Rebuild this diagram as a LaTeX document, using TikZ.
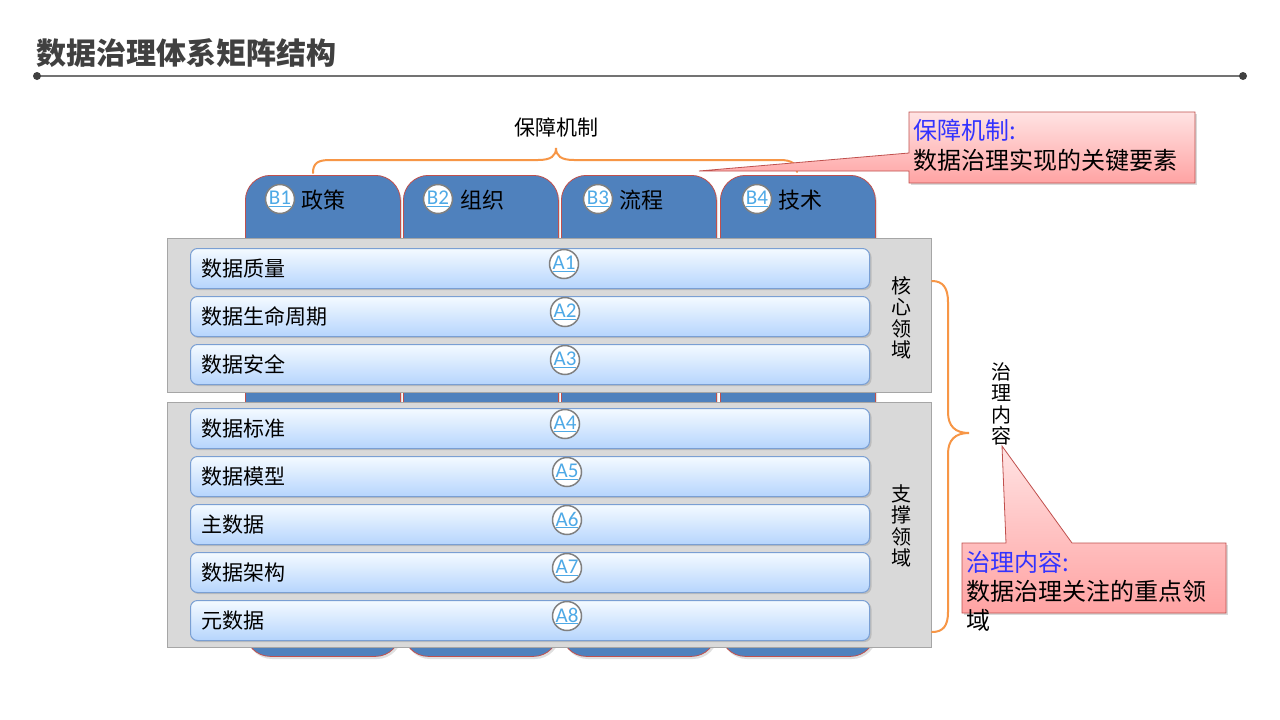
\documentclass[tikz,border=0pt]{standalone}
\usepackage{fontspec}
\setmainfont{Noto Sans CJK SC}
\newfontfamily\latinf{Carlito}
\definecolor{colblue}{HTML}{4F81BD}
\definecolor{colred}{HTML}{C0504D}
\definecolor{panelgray}{HTML}{D9D9D9}
\definecolor{panelborder}{HTML}{A6A6A6}
\definecolor{bartop}{HTML}{F4FAFF}
\definecolor{barbot}{HTML}{B6D5FD}
\definecolor{barborder}{HTML}{7A9FD3}
\definecolor{bracecol}{HTML}{F79646}
\definecolor{idblue}{HTML}{4EA9E6}
\definecolor{calltop}{HTML}{FFE3E3}
\definecolor{callbot}{HTML}{FFA3A3}
\definecolor{callborder}{HTML}{C0504D}
\definecolor{callblue}{HTML}{3333FF}
\definecolor{titlegray}{HTML}{404040}
\tikzset{
  colbox/.style={draw=colred, line width=0.8pt, fill=colblue, rounded corners=25pt,
    minimum width=155pt, minimum height=481pt, anchor=north west, inner sep=0pt},
  panel/.style={draw=panelborder, line width=0.8pt, fill=panelgray, anchor=north west,
    minimum width=764pt, inner sep=0pt},
  bar/.style={draw=barborder, line width=1pt, top color=bartop, bottom color=barbot,
    rounded corners=7pt, minimum width=679pt, minimum height=40pt, anchor=north west, inner sep=0pt},
  idcirc/.style={circle, minimum size=29pt, inner sep=0pt, draw=black!50, line width=1.5pt,
    fill=white, text=idblue, font=\latinf\fontsize{21}{21}\selectfont},
  barlabel/.style={anchor=west, inner sep=0pt, font=\fontsize{21}{21}\selectfont},
  collabel/.style={anchor=west, inner sep=0pt, font=\fontsize{22}{22}\selectfont},
  vlabel/.style={align=center, inner sep=0pt, font=\fontsize{20}{21.5}\selectfont},
  brace/.style={draw=bracecol, line width=2pt, line cap=round},
  callout/.style={draw=callborder, line width=0.8pt, top color=calltop, bottom color=callbot},
  callshadow/.style={fill=black, opacity=0.15},
  calltext/.style={anchor=north west, inner sep=0pt, align=left, font=\fontsize{24}{30}\selectfont},
}
\begin{document}
\begin{tikzpicture}[x=1pt,y=-1pt]
\useasboundingbox (0,0) rectangle (1280,720);
\fill[white] (0,0) rectangle (1280,720);

% title
\node[anchor=west, inner sep=0pt, text=titlegray, font=\bfseries\fontsize{30}{30}\selectfont] (title) at (36,53) {数据治理体系矩阵结构};
\coordinate (tl) at (37,76);
\coordinate (tr) at (1243,76);
\draw[black!55, line width=1.5pt] (tl) -- (tr);
\fill[titlegray] (tl) circle (4);
\fill[titlegray] (tr) circle (4);

% column shadows
\foreach \x in {245,403,561,720}{
  \fill[black, opacity=0.12, rounded corners=25pt] (\x+2,178) rectangle (\x+157,659);
}
% columns
\node[colbox] (b1) at (245,175) {};
\node[colbox] (b2) at (403,175) {};
\node[colbox] (b3) at (561,175) {};
\node[colbox] (b4) at (720,175) {};

\node[idcirc] (b1id) at (280,199) {\underline{B1}};
\node[collabel] (b1t) at (301,200) {政策};
\node[idcirc] (b2id) at (438,199) {\underline{B2}};
\node[collabel] (b2t) at (460,200) {组织};
\node[idcirc] (b3id) at (598,199) {\underline{B3}};
\node[collabel] (b3t) at (619,200) {流程};
\node[idcirc] (b4id) at (757,199) {\underline{B4}};
\node[collabel] (b4t) at (778,200) {技术};

% panels
\node[panel, minimum height=154pt] (core) at (167,238) {};
\node[panel, minimum height=245pt] (support) at (167,402) {};

% bars
\foreach \n/\y/\t/\cx in {1/248/数据质量/564, 2/296/数据生命周期/565, 3/344/数据安全/565,
  4/408/数据标准/565, 5/456/数据模型/567, 6/504/主数据/567, 7/552/数据架构/567, 8/600/元数据/567}{
  \fill[black, opacity=0.13, rounded corners=7pt] (191.5,\y+2) rectangle (871.5,\y+42);
  \node[bar] (a\n) at (190,\y) {};
  \node[barlabel] (a\n t) at (201,\y+20.5) {\t};
  \node[idcirc] (a\n id) at (\cx,\y+16) {\underline{A\n}};
}

% vertical labels
\node[vlabel] (corel) at (901,318) {核\\心\\领\\域};
\node[vlabel] (suppl) at (901,526) {支\\撑\\领\\域};
\node[vlabel] (govl) at (1001,404) {治\\理\\内\\容};
\node[inner sep=0pt, font=\fontsize{21}{21}\selectfont] (guarl) at (556,127) {保障机制};

% top brace
\draw[brace] (313,173) .. controls (313,163) and (318,160) .. (330,160) -- (538,160)
  .. controls (551,160) and (556,156) .. (556,148)
  .. controls (556,156) and (561,160) .. (574,160) -- (780,160)
  .. controls (792,160) and (797,164) .. (797,172);

% right brace
\draw[brace] (932,281) .. controls (943,281) and (948,288) .. (948,302) -- (948,412)
  .. controls (948,426) and (955,433) .. (969,433)
  .. controls (955,433) and (948,440) .. (948,454) -- (948,612)
  .. controls (948,626) and (943,632) .. (932,632);

% callout 1
\coordinate (tip1) at (699,171);
\fill[callshadow] (911,114) -- (1197,114) -- (1197,185) -- (911,185) -- cycle;
\path[callout] (909,112) -- (1195,112) -- (1195,183) -- (909,183) -- (909,171) -- (tip1) -- (909,153) -- cycle;
\node[calltext] (call1) at (913,119) {\textcolor{callblue}{保障机制:}\\数据治理实现的关键要素};

% callout 2
\coordinate (tip2) at (1002,446);
\fill[callshadow] (964,545) -- (1228,545) -- (1228,615) -- (964,615) -- cycle;
\path[callout] (962,543) -- (1006,543) -- (tip2) -- (1072,543) -- (1226,543) -- (1226,613) -- (962,613) -- cycle;
\node[calltext, font=\fontsize{24}{29}\selectfont] (call2) at (966,551) {\textcolor{callblue}{治理内容:}\\数据治理关注的重点领\\域};
\end{tikzpicture}
\end{document}
